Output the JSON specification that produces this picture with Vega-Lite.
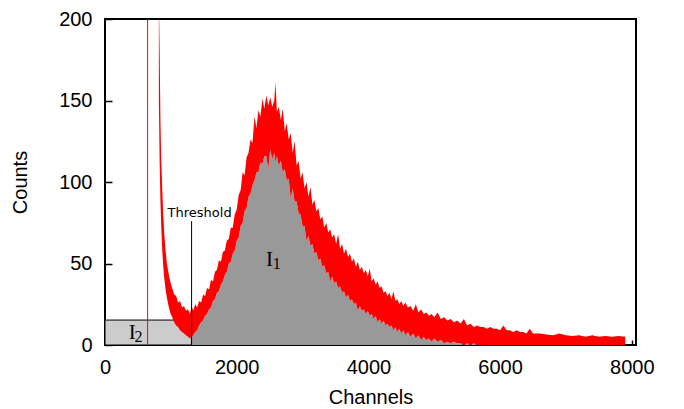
{
  "$schema": "https://vega.github.io/schema/vega-lite/v6.json",
  "width": 531,
  "height": 326,
  "autosize": "none",
  "padding": {"left": 105, "top": 19, "right": 48, "bottom": 64},
  "background": "white",
  "config": {
    "view": {"stroke": "black", "strokeWidth": 2},
    "font": "Liberation Sans",
    "axis": {
      "domain": false, "grid": false, "tickColor": "black", "tickWidth": 1.5,
      "labelFontSize": 20, "labelColor": "black", "labelFont": "Liberation Sans",
      "titleFontSize": 20, "titleFontWeight": "normal", "titleColor": "black", "titleFont": "Liberation Sans",
      "labelFlush": false, "labelOverlap": false, "format": "d"
    },
    "axisX": {"tickSize": -5, "labelPadding": 17, "titlePadding": 10},
    "axisY": {"tickSize": -7, "labelPadding": 20, "titlePadding": 28}
  },
  "datasets": {
    "spectrum": [
      {"c":818,"lo":150,"hi":215},{"c":830,"lo":112,"hi":180},{"c":842,"lo":88,"hi":138},{"c":855,"lo":72,"hi":112},
      {"c":870,"lo":58,"hi":95},{"c":885,"lo":48,"hi":80},{"c":900,"lo":41,"hi":68},{"c":920,"lo":34,"hi":58},
      {"c":940,"lo":29,"hi":50},{"c":965,"lo":24,"hi":44},{"c":990,"lo":20,"hi":39},{"c":1020,"lo":17,"hi":35},
      {"c":1050,"lo":14,"hi":31},{"c":1080,"lo":12,"hi":30},{"c":1110,"lo":11,"hi":26},{"c":1140,"lo":9,"hi":27},
      {"c":1170,"lo":8,"hi":23},{"c":1200,"lo":7,"hi":24},{"c":1230,"lo":6,"hi":21},{"c":1260,"lo":5,"hi":22},
      {"c":1290,"lo":4,"hi":19},{"c":1315,"lo":5,"hi":24},{"c":1340,"lo":6,"hi":21},{"c":1370,"lo":8,"hi":25},
      {"c":1400,"lo":9,"hi":23},{"c":1430,"lo":12,"hi":27},{"c":1460,"lo":14,"hi":26},{"c":1490,"lo":15,"hi":31},
      {"c":1520,"lo":18,"hi":30},{"c":1550,"lo":19,"hi":35},{"c":1580,"lo":22,"hi":34},{"c":1610,"lo":23,"hi":40},
      {"c":1640,"lo":27,"hi":39},{"c":1670,"lo":28,"hi":45},{"c":1700,"lo":32,"hi":46},{"c":1730,"lo":33,"hi":52},
      {"c":1760,"lo":37,"hi":51},{"c":1790,"lo":39,"hi":57},{"c":1820,"lo":43,"hi":58},{"c":1850,"lo":45,"hi":64},
      {"c":1880,"lo":50,"hi":65},{"c":1910,"lo":51,"hi":72},{"c":1940,"lo":56,"hi":72},{"c":1970,"lo":58,"hi":80},
      {"c":2000,"lo":64,"hi":83},{"c":2030,"lo":66,"hi":92},{"c":2060,"lo":73,"hi":95},{"c":2090,"lo":75,"hi":106},
      {"c":2120,"lo":82,"hi":104},{"c":2150,"lo":84,"hi":115},{"c":2180,"lo":91,"hi":118},{"c":2210,"lo":93,"hi":126},
      {"c":2240,"lo":98,"hi":124},{"c":2270,"lo":101,"hi":140},{"c":2300,"lo":106,"hi":133},{"c":2330,"lo":106,"hi":144},
      {"c":2360,"lo":112,"hi":140},{"c":2390,"lo":111,"hi":151},{"c":2420,"lo":116,"hi":145},{"c":2450,"lo":116,"hi":153},
      {"c":2480,"lo":108,"hi":147},{"c":2510,"lo":120,"hi":152},{"c":2540,"lo":114,"hi":146},{"c":2570,"lo":118,"hi":150},
      {"c":2590,"lo":112,"hi":161},{"c":2610,"lo":116,"hi":143},{"c":2640,"lo":110,"hi":146},{"c":2670,"lo":113,"hi":138},
      {"c":2700,"lo":106,"hi":145},{"c":2730,"lo":108,"hi":131},{"c":2760,"lo":101,"hi":136},{"c":2790,"lo":102,"hi":126},
      {"c":2820,"lo":90,"hi":130},{"c":2850,"lo":96,"hi":118},{"c":2880,"lo":88,"hi":125},{"c":2910,"lo":88,"hi":110},
      {"c":2940,"lo":81,"hi":113},{"c":2970,"lo":80,"hi":102},{"c":3000,"lo":73,"hi":106},{"c":3030,"lo":73,"hi":96},
      {"c":3060,"lo":64,"hi":100},{"c":3090,"lo":67,"hi":91},{"c":3120,"lo":61,"hi":97},{"c":3150,"lo":62,"hi":86},
      {"c":3180,"lo":56,"hi":89},{"c":3210,"lo":57,"hi":82},{"c":3240,"lo":52,"hi":84},{"c":3270,"lo":53,"hi":77},
      {"c":3300,"lo":48,"hi":79},{"c":3330,"lo":49,"hi":72},{"c":3360,"lo":44,"hi":75},{"c":3390,"lo":45,"hi":69},
      {"c":3420,"lo":39,"hi":71},{"c":3450,"lo":42,"hi":66},{"c":3480,"lo":38,"hi":68},{"c":3510,"lo":39,"hi":62},
      {"c":3540,"lo":35,"hi":68},{"c":3570,"lo":36,"hi":59},{"c":3600,"lo":32,"hi":62},{"c":3630,"lo":33,"hi":56},
      {"c":3660,"lo":29,"hi":59},{"c":3690,"lo":31,"hi":54},{"c":3720,"lo":27,"hi":56},{"c":3750,"lo":28,"hi":51},
      {"c":3780,"lo":25,"hi":53},{"c":3810,"lo":26,"hi":48},{"c":3840,"lo":21,"hi":51},{"c":3870,"lo":24,"hi":46},
      {"c":3900,"lo":21,"hi":48},{"c":3930,"lo":22,"hi":44},{"c":3960,"lo":19,"hi":46},{"c":3990,"lo":21,"hi":42},
      {"c":4020,"lo":18,"hi":47},{"c":4050,"lo":19,"hi":39},{"c":4080,"lo":16,"hi":41},{"c":4110,"lo":18,"hi":37},
      {"c":4140,"lo":14,"hi":39},{"c":4170,"lo":16,"hi":35},{"c":4200,"lo":13,"hi":36},{"c":4230,"lo":15,"hi":32},
      {"c":4260,"lo":12,"hi":33},{"c":4290,"lo":13,"hi":30},{"c":4320,"lo":11,"hi":32},{"c":4350,"lo":12,"hi":28},
      {"c":4380,"lo":9,"hi":33},{"c":4410,"lo":11,"hi":27},{"c":4440,"lo":8,"hi":28},{"c":4470,"lo":10,"hi":25},
      {"c":4500,"lo":7,"hi":27},{"c":4530,"lo":9,"hi":24},{"c":4560,"lo":6,"hi":26},{"c":4600,"lo":8,"hi":23},
      {"c":4640,"lo":5,"hi":24},{"c":4680,"lo":7,"hi":21},{"c":4720,"lo":4,"hi":25},{"c":4760,"lo":6,"hi":20},
      {"c":4800,"lo":3,"hi":22},{"c":4840,"lo":5,"hi":19},{"c":4880,"lo":3,"hi":20},{"c":4920,"lo":4,"hi":18},
      {"c":4960,"lo":2,"hi":19},{"c":5000,"lo":4,"hi":17},{"c":5050,"lo":2,"hi":20},{"c":5100,"lo":3,"hi":16},
      {"c":5150,"lo":1,"hi":17},{"c":5200,"lo":2,"hi":15},{"c":5250,"lo":1,"hi":16},{"c":5300,"lo":2,"hi":14},
      {"c":5350,"lo":1,"hi":15},{"c":5400,"lo":1,"hi":13},{"c":5450,"lo":0,"hi":16},{"c":5500,"lo":1,"hi":12},
      {"c":5550,"lo":0,"hi":13},{"c":5600,"lo":1,"hi":11},{"c":5650,"lo":0,"hi":12},{"c":5700,"lo":0,"hi":11},
      {"c":5750,"lo":0,"hi":11},{"c":5800,"lo":0,"hi":10},{"c":5850,"lo":0,"hi":11},{"c":5900,"lo":0,"hi":10},
      {"c":5950,"lo":0,"hi":10},{"c":6000,"lo":0,"hi":9},{"c":6050,"lo":0,"hi":12},{"c":6100,"lo":0,"hi":9},
      {"c":6150,"lo":0,"hi":9},{"c":6200,"lo":0,"hi":8},{"c":6250,"lo":0,"hi":9},{"c":6300,"lo":0,"hi":8},
      {"c":6350,"lo":0,"hi":8},{"c":6400,"lo":0,"hi":7},{"c":6450,"lo":0,"hi":10},{"c":6500,"lo":0,"hi":7},
      {"c":6600,"lo":0,"hi":7},{"c":6700,"lo":0,"hi":6.5},{"c":6800,"lo":0,"hi":6},{"c":6900,"lo":0,"hi":7},
      {"c":7000,"lo":0,"hi":6},{"c":7100,"lo":0,"hi":5.5},{"c":7200,"lo":0,"hi":6},{"c":7300,"lo":0,"hi":5},
      {"c":7400,"lo":0,"hi":6},{"c":7500,"lo":0,"hi":5},{"c":7600,"lo":0,"hi":5.5},{"c":7700,"lo":0,"hi":5},
      {"c":7800,"lo":0,"hi":5.5},{"c":7900,"lo":0,"hi":5}
    ],
    "shade": [{"x0": 0, "x1": 1315, "y0": 0, "y1": 15.3}],
    "threshold": [{"x": 1315, "y0": 0, "y1": 76}],
    "spike": [{"x": 647, "y0": 0, "y1": 200}],
    "thrlabel": [{"x": 1437, "y": 78.3, "text": "Threshold"}],
    "letters": [{"x": 2500, "y": 48.3, "text": "I"}, {"x": 412, "y": 3.4, "text": "I"}],
    "subs": [{"x": 2607, "y": 46.5, "text": "1"}, {"x": 510, "y": 1.8, "text": "2"}]
  },
  "layer": [
    {
      "data": {"name": "shade"},
      "mark": {"type": "rect", "fill": "#cccccc", "stroke": "black", "strokeWidth": 1},
      "encoding": {
        "x": {"field": "x0", "type": "quantitative", "title": "Channels",
              "scale": {"domain": [0, 8064], "nice": false, "zero": false},
              "axis": {"values": [0, 2000, 4000, 6000, 8000]}},
        "x2": {"field": "x1"},
        "y": {"field": "y0", "type": "quantitative", "title": "Counts",
              "scale": {"domain": [0, 200], "nice": false},
              "axis": {"values": [0, 50, 100, 150, 200]}},
        "y2": {"field": "y1"}
      }
    },
    {
      "data": {"name": "spectrum"},
      "transform": [{"filter": "datum.c >= 1315"}],
      "mark": {"type": "area", "color": "#999999"},
      "encoding": {
        "x": {"field": "c", "type": "quantitative", "title": "Channels"},
        "y": {"field": "lo", "type": "quantitative", "title": "Counts"}
      }
    },
    {
      "data": {"name": "spectrum"},
      "mark": {"type": "area", "color": "#ff0000", "clip": true},
      "encoding": {
        "x": {"field": "c", "type": "quantitative", "title": "Channels"},
        "y": {"field": "hi", "type": "quantitative", "title": "Counts"},
        "y2": {"field": "lo"}
      }
    },
    {
      "data": {"name": "spike"},
      "mark": {"type": "rule", "color": "#ff0000", "strokeWidth": 1},
      "encoding": {
        "x": {"field": "x", "type": "quantitative", "title": "Channels"},
        "y": {"field": "y0", "type": "quantitative", "title": "Counts"},
        "y2": {"field": "y1"}
      }
    },
    {
      "data": {"name": "threshold"},
      "mark": {"type": "rule", "color": "black", "strokeWidth": 1},
      "encoding": {
        "x": {"field": "x", "type": "quantitative", "title": "Channels"},
        "y": {"field": "y0", "type": "quantitative", "title": "Counts"},
        "y2": {"field": "y1"}
      }
    },
    {
      "data": {"name": "thrlabel"},
      "mark": {"type": "text", "font": "DejaVu Sans", "fontSize": 13, "align": "center", "baseline": "alphabetic", "color": "black"},
      "encoding": {
        "x": {"field": "x", "type": "quantitative", "title": "Channels"},
        "y": {"field": "y", "type": "quantitative", "title": "Counts"},
        "text": {"field": "text"}
      }
    },
    {
      "data": {"name": "letters"},
      "mark": {"type": "text", "font": "Liberation Serif", "fontSize": 21, "align": "center", "baseline": "alphabetic", "color": "black"},
      "encoding": {
        "x": {"field": "x", "type": "quantitative", "title": "Channels"},
        "y": {"field": "y", "type": "quantitative", "title": "Counts"},
        "text": {"field": "text"}
      }
    },
    {
      "data": {"name": "subs"},
      "mark": {"type": "text", "font": "Liberation Serif", "fontSize": 16, "align": "center", "baseline": "alphabetic", "color": "black"},
      "encoding": {
        "x": {"field": "x", "type": "quantitative", "title": "Channels"},
        "y": {"field": "y", "type": "quantitative", "title": "Counts"},
        "text": {"field": "text"}
      }
    }
  ]
}
